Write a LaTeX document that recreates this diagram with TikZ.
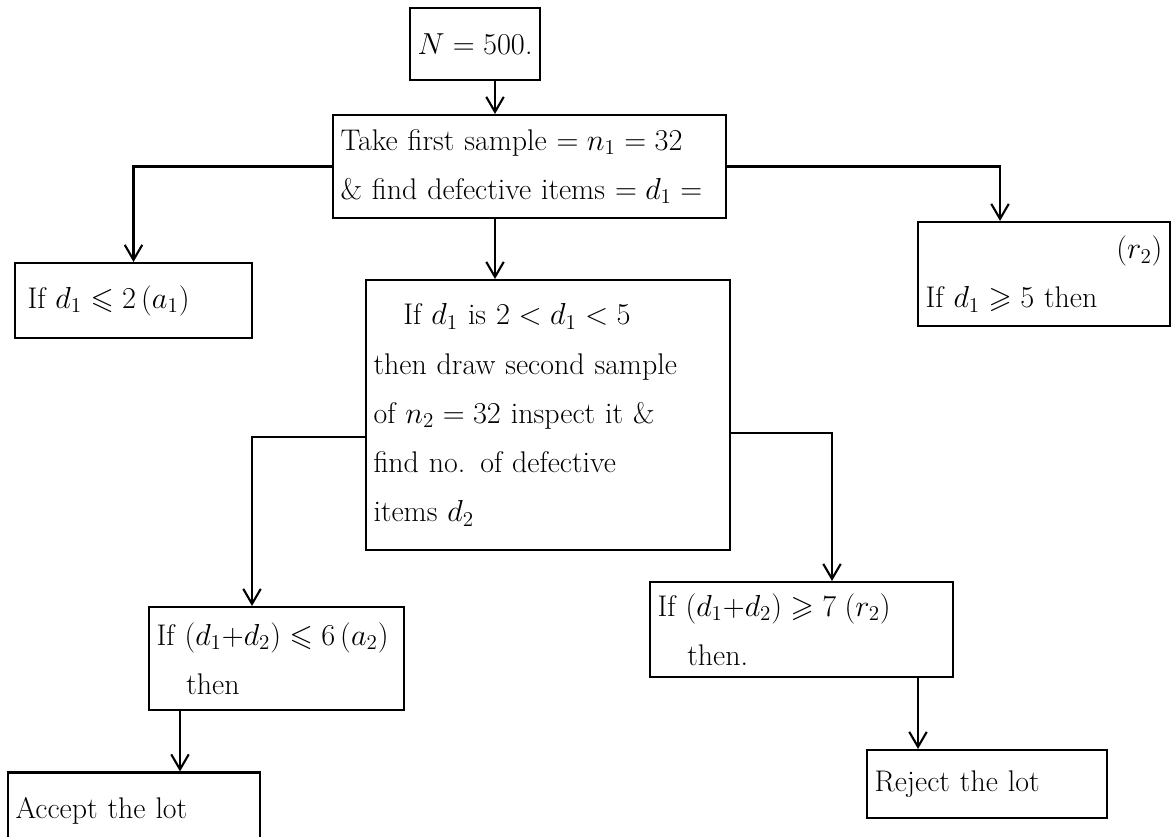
\documentclass[tikz,border=0pt]{standalone}
\usepackage{amsmath,amssymb}
\usepackage{tikz}
\usetikzlibrary{shapes,arrows.meta}

\begin{document}
\begin{tikzpicture}[
    x=0.02cm,
    y=-0.02cm,
    block/.style={
      rectangle,
      draw,
      line width=1.2pt,
      align=left,
      inner xsep=0.15cm,
      font=\fontsize{17}{28}\selectfont
    },
    line/.style={draw, -{Straight Barb[length=3mm,width=3.5mm]}, line width=1.2pt},
]
    \useasboundingbox (0,0) rectangle (1172,836);
    \coordinate (spine) at (495,0);
    \coordinate (acceptx) at (180,0);
    \coordinate (rejectx) at (918,0);

    \node [block, align=center, text width=2.3cm, minimum height=1.44cm] (start) at (475,44) {$N = 500$.};
    \node [block, text width=7.56cm, minimum height=2.06cm] (first) at (529.5,166.5) {Take first sample $= n_1 = 32$\\ \& find defective items $= d_1 =$};
    \node [block, text width=4.44cm, minimum height=1.5cm] (accfirst) at (133.5,300.5) {\,If $d_1 \leqslant 2\,(a_1)$};
    \node [block, text width=4.74cm, minimum height=2.08cm] (rejfirst) at (1044,274) {\hfill$(r_2)$\\ If $d_1 \geqslant 5$ then};
    \node [block, text width=6.98cm, minimum height=5.4cm] (second) at (548,415) {\quad If $d_1$ is $2 < d_1 < 5$\\ then draw second sample\\ of $n_2 = 32$ inspect it \&\\ find no. of defective\\ items $d_2$};
    \node [block, text width=4.8cm, minimum height=2.06cm] (accsecond) at (276.5,658.5) {If $(d_1{+}d_2) \leqslant 6\,(a_2)$\\ \quad then};
    \node [block, text width=5.76cm, minimum height=1.9cm] (rejsecond) at (801.5,629.5) {If $(d_1{+}d_2) \geqslant 7\;(r_2)$\\ \quad then.};
    \node [block, text width=4.74cm, minimum height=1.54cm] (accept) at (134,811) {Accept the lot};
    \node [block, text width=4.5cm, minimum height=1.36cm] (reject) at (987,784) {Reject the lot};

    \path [line] (start.south -| spine) -- (first.north -| spine);
    \path [line] (first.west) -| (accfirst.north);
    \path [line] (first.east) -| ([xshift=-0.88cm]rejfirst.north);
    \path [line] (first.south -| spine) -- (second.north -| spine);
    \path [line] ([yshift=-0.44cm]second.west) -| ([xshift=-0.49cm]accsecond.north);
    \path [line] ([yshift=-0.36cm]second.east) -| ([xshift=0.61cm]rejsecond.north);
    \path [line] (accsecond.south -| acceptx) -- (accept.north -| acceptx);
    \path [line] (rejsecond.south -| rejectx) -- (reject.north -| rejectx);

\end{tikzpicture}
\end{document}
